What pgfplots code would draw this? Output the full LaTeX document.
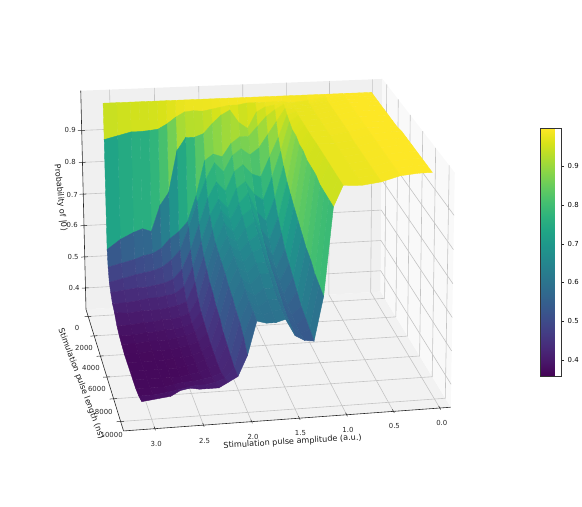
\documentclass[border=0pt]{standalone}
\usepackage{fontspec}
\setmainfont{DejaVu Sans}
\usepackage{pgfplots}
\usepackage{pgfplotstable}
\pgfplotsset{compat=1.18}

\definecolor{gridc}{HTML}{C4C4C4}

% len (ns), amplitude (a.u.), probability, one scanline per pulse length
\pgfplotstableread[row sep=\\]{
len a p\\
0 0.06 1\\0 0.2 1\\0 0.4 1\\0 0.6 1\\0 0.8 1\\0 1 1\\0 1.1 1\\0 1.2 1\\0 1.3 1\\0 1.4 1\\0 1.5 1\\0 1.6 1\\0 1.7 1\\0 1.8 1\\0 1.9 1\\0 2 1\\0 2.1 1\\0 2.2 1\\0 2.3 1\\0 2.4 1\\0 2.5 1\\0 2.6 1\\0 2.7 1\\0 2.8 1\\0 2.95 1\\0 3.1 1\\
100 0.06 1\\100 0.2 1\\100 0.4 1\\100 0.6 0.995\\100 0.8 0.985\\100 1 0.98\\100 1.1 0.985\\100 1.2 0.985\\100 1.3 0.985\\100 1.4 0.985\\100 1.5 0.985\\100 1.6 0.98\\100 1.7 0.98\\100 1.8 0.975\\100 1.9 0.97\\100 2 0.965\\100 2.1 0.968\\100 2.2 0.965\\100 2.3 0.95\\100 2.4 0.93\\100 2.5 0.915\\100 2.6 0.912\\100 2.7 0.91\\100 2.8 0.91\\100 2.95 0.9\\100 3.1 0.89\\
300 0.06 1\\300 0.2 1\\300 0.4 1\\300 0.6 0.995\\300 0.8 0.98\\300 1 0.975\\300 1.1 0.985\\300 1.2 0.98\\300 1.3 0.975\\300 1.4 0.96\\300 1.5 0.91\\300 1.6 0.93\\300 1.7 0.97\\300 1.8 0.955\\300 1.9 0.93\\300 2 0.9\\300 2.1 0.89\\300 2.2 0.89\\300 2.3 0.85\\300 2.4 0.72\\300 2.5 0.68\\300 2.6 0.6\\300 2.7 0.61\\300 2.8 0.6\\300 2.95 0.58\\300 3.1 0.55\\
500 0.06 1\\500 0.2 1\\500 0.4 1\\500 0.6 0.99\\500 0.8 0.98\\500 1 0.978\\500 1.1 0.985\\500 1.2 0.97\\500 1.3 0.95\\500 1.4 0.92\\500 1.5 0.89\\500 1.6 0.89\\500 1.7 0.87\\500 1.8 0.83\\500 1.9 0.84\\500 2 0.82\\500 2.1 0.71\\500 2.2 0.63\\500 2.3 0.6\\500 2.4 0.58\\500 2.5 0.55\\500 2.6 0.535\\500 2.7 0.53\\500 2.8 0.52\\500 2.95 0.51\\500 3.1 0.5\\
800 0.06 1\\800 0.2 1\\800 0.4 1\\800 0.6 0.99\\800 0.8 0.98\\800 1 0.978\\800 1.1 0.98\\800 1.2 0.94\\800 1.3 0.9\\800 1.4 0.86\\800 1.5 0.84\\800 1.6 0.86\\800 1.7 0.84\\800 1.8 0.79\\800 1.9 0.82\\800 2 0.77\\800 2.1 0.7\\800 2.2 0.62\\800 2.3 0.55\\800 2.4 0.52\\800 2.5 0.5\\800 2.6 0.49\\800 2.7 0.485\\800 2.8 0.48\\800 2.95 0.47\\800 3.1 0.46\\
1200 0.06 1\\1200 0.2 1\\1200 0.4 1\\1200 0.6 0.99\\1200 0.8 0.98\\1200 1 0.978\\1200 1.1 0.97\\1200 1.2 0.9\\1200 1.3 0.84\\1200 1.4 0.78\\1200 1.5 0.79\\1200 1.6 0.82\\1200 1.7 0.8\\1200 1.8 0.74\\1200 1.9 0.77\\1200 2 0.72\\1200 2.1 0.64\\1200 2.2 0.56\\1200 2.3 0.5\\1200 2.4 0.47\\1200 2.5 0.46\\1200 2.6 0.455\\1200 2.7 0.45\\1200 2.8 0.45\\1200 2.95 0.445\\1200 3.1 0.44\\
1700 0.06 1\\1700 0.2 1\\1700 0.4 1\\1700 0.6 0.99\\1700 0.8 0.98\\1700 1 0.978\\1700 1.1 0.96\\1700 1.2 0.87\\1700 1.3 0.79\\1700 1.4 0.72\\1700 1.5 0.74\\1700 1.6 0.78\\1700 1.7 0.76\\1700 1.8 0.7\\1700 1.9 0.73\\1700 2 0.68\\1700 2.1 0.6\\1700 2.2 0.52\\1700 2.3 0.46\\1700 2.4 0.44\\1700 2.5 0.435\\1700 2.6 0.43\\1700 2.7 0.43\\1700 2.8 0.425\\1700 2.95 0.42\\1700 3.1 0.42\\
2300 0.06 1\\2300 0.2 1\\2300 0.4 1\\2300 0.6 0.99\\2300 0.8 0.98\\2300 1 0.978\\2300 1.1 0.95\\2300 1.2 0.84\\2300 1.3 0.74\\2300 1.4 0.67\\2300 1.5 0.7\\2300 1.6 0.76\\2300 1.7 0.73\\2300 1.8 0.68\\2300 1.9 0.71\\2300 2 0.65\\2300 2.1 0.57\\2300 2.2 0.49\\2300 2.3 0.43\\2300 2.4 0.42\\2300 2.5 0.415\\2300 2.6 0.41\\2300 2.7 0.41\\2300 2.8 0.41\\2300 2.95 0.405\\2300 3.1 0.41\\
3000 0.06 1\\3000 0.2 1\\3000 0.4 1\\3000 0.6 0.99\\3000 0.8 0.98\\3000 1 0.978\\3000 1.1 0.95\\3000 1.2 0.81\\3000 1.3 0.7\\3000 1.4 0.63\\3000 1.5 0.67\\3000 1.6 0.73\\3000 1.7 0.71\\3000 1.8 0.66\\3000 1.9 0.69\\3000 2 0.63\\3000 2.1 0.55\\3000 2.2 0.46\\3000 2.3 0.415\\3000 2.4 0.405\\3000 2.5 0.4\\3000 2.6 0.4\\3000 2.7 0.395\\3000 2.8 0.395\\3000 2.95 0.39\\3000 3.1 0.39\\
3700 0.06 1\\3700 0.2 1\\3700 0.4 1\\3700 0.6 0.99\\3700 0.8 0.98\\3700 1 0.978\\3700 1.1 0.94\\3700 1.2 0.79\\3700 1.3 0.67\\3700 1.4 0.6\\3700 1.5 0.65\\3700 1.6 0.71\\3700 1.7 0.69\\3700 1.8 0.65\\3700 1.9 0.67\\3700 2 0.62\\3700 2.1 0.53\\3700 2.2 0.44\\3700 2.3 0.405\\3700 2.4 0.395\\3700 2.5 0.39\\3700 2.6 0.39\\3700 2.7 0.385\\3700 2.8 0.385\\3700 2.95 0.38\\3700 3.1 0.38\\
4400 0.06 1\\4400 0.2 1\\4400 0.4 1\\4400 0.6 0.99\\4400 0.8 0.98\\4400 1 0.978\\4400 1.1 0.94\\4400 1.2 0.77\\4400 1.3 0.64\\4400 1.4 0.58\\4400 1.5 0.63\\4400 1.6 0.69\\4400 1.7 0.67\\4400 1.8 0.64\\4400 1.9 0.66\\4400 2 0.61\\4400 2.1 0.52\\4400 2.2 0.43\\4400 2.3 0.4\\4400 2.4 0.39\\4400 2.5 0.385\\4400 2.6 0.38\\4400 2.7 0.38\\4400 2.8 0.38\\4400 2.95 0.375\\4400 3.1 0.375\\
5200 0.06 1.005\\5200 0.2 1.005\\5200 0.4 1\\5200 0.6 0.985\\5200 0.8 0.978\\5200 1 0.98\\5200 1.1 0.93\\5200 1.2 0.75\\5200 1.3 0.62\\5200 1.4 0.565\\5200 1.5 0.61\\5200 1.6 0.67\\5200 1.7 0.66\\5200 1.8 0.63\\5200 1.9 0.65\\5200 2 0.6\\5200 2.1 0.5\\5200 2.2 0.42\\5200 2.3 0.395\\5200 2.4 0.385\\5200 2.5 0.38\\5200 2.6 0.375\\5200 2.7 0.375\\5200 2.8 0.375\\5200 2.95 0.37\\5200 3.1 0.37\\
6000 0.06 1.005\\6000 0.2 1.005\\6000 0.4 1\\6000 0.6 0.985\\6000 0.8 0.978\\6000 1 0.98\\6000 1.1 0.93\\6000 1.2 0.73\\6000 1.3 0.6\\6000 1.4 0.55\\6000 1.5 0.6\\6000 1.6 0.65\\6000 1.7 0.65\\6000 1.8 0.62\\6000 1.9 0.64\\6000 2 0.585\\6000 2.1 0.49\\6000 2.2 0.41\\6000 2.3 0.39\\6000 2.4 0.38\\6000 2.5 0.375\\6000 2.6 0.375\\6000 2.7 0.37\\6000 2.8 0.37\\6000 2.95 0.37\\6000 3.1 0.37\\
6800 0.06 1.005\\6800 0.2 1.005\\6800 0.4 1\\6800 0.6 0.985\\6800 0.8 0.978\\6800 1 0.98\\6800 1.1 0.93\\6800 1.2 0.71\\6800 1.3 0.58\\6800 1.4 0.54\\6800 1.5 0.585\\6800 1.6 0.64\\6800 1.7 0.64\\6800 1.8 0.61\\6800 1.9 0.63\\6800 2 0.575\\6800 2.1 0.47\\6800 2.2 0.405\\6800 2.3 0.39\\6800 2.4 0.38\\6800 2.5 0.375\\6800 2.6 0.37\\6800 2.7 0.37\\6800 2.8 0.37\\6800 2.95 0.37\\6800 3.1 0.37\\
7600 0.06 1.005\\7600 0.2 1.005\\7600 0.4 1\\7600 0.6 0.985\\7600 0.8 0.978\\7600 1 0.98\\7600 1.1 0.92\\7600 1.2 0.7\\7600 1.3 0.56\\7600 1.4 0.535\\7600 1.5 0.57\\7600 1.6 0.62\\7600 1.7 0.62\\7600 1.8 0.6\\7600 1.9 0.62\\7600 2 0.56\\7600 2.1 0.46\\7600 2.2 0.4\\7600 2.3 0.39\\7600 2.4 0.38\\7600 2.5 0.375\\7600 2.6 0.37\\7600 2.7 0.37\\7600 2.8 0.37\\7600 2.95 0.37\\7600 3.1 0.37\\
8400 0.06 1.005\\8400 0.2 1.005\\8400 0.4 1\\8400 0.6 0.985\\8400 0.8 0.978\\8400 1 0.98\\8400 1.1 0.92\\8400 1.2 0.68\\8400 1.3 0.55\\8400 1.4 0.53\\8400 1.5 0.56\\8400 1.6 0.61\\8400 1.7 0.61\\8400 1.8 0.59\\8400 1.9 0.61\\8400 2 0.55\\8400 2.1 0.45\\8400 2.2 0.4\\8400 2.3 0.39\\8400 2.4 0.385\\8400 2.5 0.38\\8400 2.6 0.38\\8400 2.7 0.375\\8400 2.8 0.37\\8400 2.95 0.37\\8400 3.1 0.37\\
9200 0.06 1.005\\9200 0.2 1.005\\9200 0.4 1\\9200 0.6 0.985\\9200 0.8 0.978\\9200 1 0.98\\9200 1.1 0.92\\9200 1.2 0.67\\9200 1.3 0.54\\9200 1.4 0.53\\9200 1.5 0.555\\9200 1.6 0.605\\9200 1.7 0.6\\9200 1.8 0.59\\9200 1.9 0.605\\9200 2 0.53\\9200 2.1 0.44\\9200 2.2 0.41\\9200 2.3 0.4\\9200 2.4 0.395\\9200 2.5 0.395\\9200 2.6 0.39\\9200 2.7 0.385\\9200 2.8 0.38\\9200 2.95 0.375\\9200 3.1 0.375\\
10000 0.06 1.005\\10000 0.2 1.005\\10000 0.4 1\\10000 0.6 0.985\\10000 0.8 0.978\\10000 1 0.98\\10000 1.1 0.92\\10000 1.2 0.66\\10000 1.3 0.53\\10000 1.4 0.534\\10000 1.5 0.55\\10000 1.6 0.6\\10000 1.7 0.592\\10000 1.8 0.592\\10000 1.9 0.6\\10000 2 0.5\\10000 2.1 0.44\\10000 2.2 0.425\\10000 2.3 0.41\\10000 2.4 0.41\\10000 2.5 0.41\\10000 2.6 0.415\\10000 2.7 0.41\\10000 2.8 0.395\\10000 2.95 0.39\\10000 3.1 0.385\\
}\surfdata

\begin{document}
\begin{tikzpicture}[x=1pt,y=1pt,
  % camera of the reference: box coordinates (0..1 each) to pixels
  declare function={
    dn(\a,\b,\c)=1-0.02868*\a-0.10299*\b-0.0234*\c;
    prx(\a,\b,\c)=(385-300.495*\a+24.04*\b-7.06*\c)/dn(\a,\b,\c);
    pry(\a,\b,\c)=512-(295+9.02*\a+74.57*\b-217*\c)/dn(\a,\b,\c);
    ua(\a)=0.0343+0.2909*\a;
    vl(\a)=0.065+0.0865*\a/1000;
    zz(\a)=0.1+1.444*(\a-0.4);
  }]
\path (0,0) rectangle (582,512);

% panes
\fill[black!5] ({prx(0,0,0)},{pry(0,0,0)}) -- ({prx(1,0,0)},{pry(1,0,0)}) -- ({prx(1,1,0)},{pry(1,1,0)}) -- ({prx(0,1,0)},{pry(0,1,0)}) -- cycle;
\fill[black!6] ({prx(0,0,0)},{pry(0,0,0)}) -- ({prx(1,0,0)},{pry(1,0,0)}) -- ({prx(1,0,1)},{pry(1,0,1)}) -- ({prx(0,0,1)},{pry(0,0,1)}) -- cycle;
\fill[black!2.5] ({prx(0,0,0)},{pry(0,0,0)}) -- ({prx(0,1,0)},{pry(0,1,0)}) -- ({prx(0,1,1)},{pry(0,1,1)}) -- ({prx(0,0,1)},{pry(0,0,1)}) -- cycle;

% grid
\begin{scope}[gridc,line width=0.6pt]
\foreach \t in {0,0.5,1,1.5,2,2.5,3}{
  \draw ({prx(ua(\t),1,0)},{pry(ua(\t),1,0)}) -- ({prx(ua(\t),0,0)},{pry(ua(\t),0,0)}) -- ({prx(ua(\t),0,1)},{pry(ua(\t),0,1)});
}
\foreach \t in {0,2000,4000,6000,8000,10000}{
  \draw ({prx(1,vl(\t),0)},{pry(1,vl(\t),0)}) -- ({prx(0,vl(\t),0)},{pry(0,vl(\t),0)}) -- ({prx(0,vl(\t),1)},{pry(0,vl(\t),1)});
}
\foreach \t in {0.4,0.5,0.6,0.7,0.8,0.9}{
  \draw ({prx(1,0,zz(\t))},{pry(1,0,zz(\t))}) -- ({prx(0,0,zz(\t))},{pry(0,0,zz(\t))}) -- ({prx(0,1,zz(\t))},{pry(0,1,zz(\t))});
}
\end{scope}

% axis lines and ticks
\draw[black!85,line width=0.6pt] ({prx(1,0,1)},{pry(1,0,1)}) -- ({prx(1,0,0)},{pry(1,0,0)}) -- ({prx(1,1,0)},{pry(1,1,0)}) -- ({prx(0,1,0)},{pry(0,1,0)});
\begin{scope}[black!85,line width=0.5pt]
\foreach \t in {0,0.5,1,1.5,2,2.5,3}{
  \draw ({prx(ua(\t),0.985,0)},{pry(ua(\t),0.985,0)}) -- ({prx(ua(\t),1.012,0)},{pry(ua(\t),1.012,0)});
}
\foreach \t in {0,2000,4000,6000,8000,10000}{
  \draw ({prx(0.99,vl(\t),0)},{pry(0.99,vl(\t),0)}) -- ({prx(1.012,vl(\t),0)},{pry(1.012,vl(\t),0)});
}
\foreach \t in {0.4,0.5,0.6,0.7,0.8,0.9}{
  \draw ({prx(0.99,0,zz(\t))},{pry(0.99,0,zz(\t))}) -- ({prx(1.012,0,zz(\t))},{pry(1.012,0,zz(\t))});
}
\end{scope}

\begin{axis}[
  at={(0,0)},anchor=south west,
  scale only axis,width=582pt,height=512pt,
  view={0}{90},
  hide axis,clip=false,
  xmin=0,xmax=582,ymin=0,ymax=512,zmin=0,zmax=2,
  colormap name=viridis,
  point meta min=0.3566,point meta max=0.998,
  colorbar,
  colorbar style={
    at={(parent axis.south west)},anchor=south west,
    xshift=538.3pt,yshift=131pt,
    width=21pt,height=251pt,
    ytick={0.4,0.5,0.6,0.7,0.8,0.9},
    ytick pos=right,tick align=outside,major tick length=3pt,
    axis line style={black!80,line width=0.6pt},
    tick style={black!85,line width=0.5pt},
    yticklabel style={font=\fontsize{7}{8}\selectfont,
      /pgf/number format/fixed,/pgf/number format/fixed zerofill,
      /pgf/number format/precision=1,/pgf/number format/assume math mode=true},
  },
]
\addplot3[surf,shader=flat mean,mesh/cols=26,z buffer=none,point meta=\thisrow{p}]
  table[
    x expr={prx(ua(\thisrow{a}),vl(\thisrow{len}),zz(\thisrow{p}))},
    y expr={pry(ua(\thisrow{a}),vl(\thisrow{len}),zz(\thisrow{p}))},
    z expr={\thisrow{p}},
  ] {\surfdata};
\end{axis}

% tick labels and axis labels
\begin{scope}[font=\fontsize{7}{8}\selectfont,black!85]
\node at (71,380) {0.9};
\node at (71,348) {0.8};
\node at (73,315) {0.7};
\node at (73,284) {0.6};
\node at (74,252) {0.5};
\node at (75,221) {0.4};
\node at (78,180) {0};
\node at (85,160) {2000};
\node at (92,140) {4000};
\node at (98,118) {6000};
\node at (105,95) {8000};
\node at (113,72) {10000};
\node at (158,63) {3.0};
\node at (207,66) {2.5};
\node at (256,70) {2.0};
\node at (304,74) {1.5};
\node at (352,77) {1.0};
\node at (399,81) {0.5};
\node at (447,84) {0.0};
\end{scope}
\begin{scope}[font=\fontsize{8.2}{9}\selectfont,black!90]
\node[rotate=3.5] at (296,65) {Stimulation pulse amplitude (a.u.)};
\node[rotate=-69.5] at (82,124) {Stimulation pulse length (ns)};
\node[rotate=-84] at (61,312) {Probability of |0⟩};
\end{scope}
\end{tikzpicture}
\end{document}
